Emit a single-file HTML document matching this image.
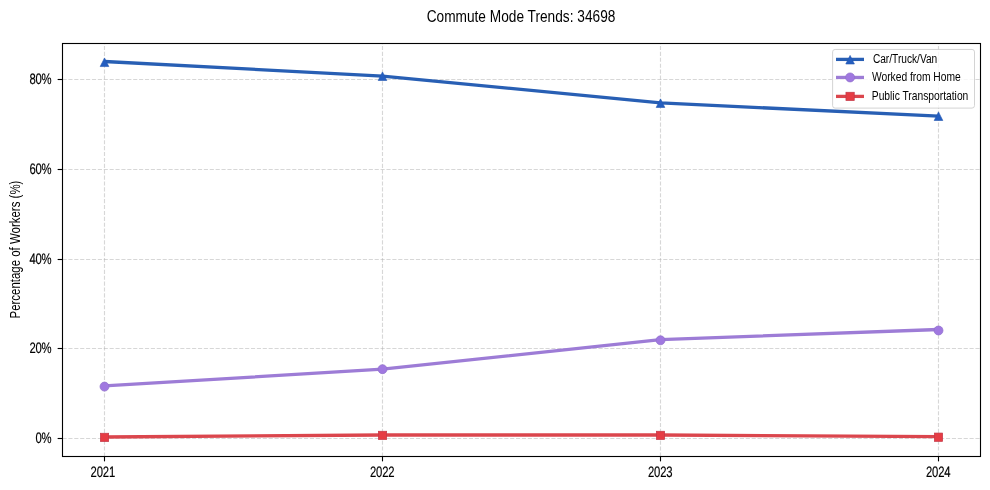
<!DOCTYPE html>
<html lang="en"><head><meta charset="utf-8"><title>Commute Mode Trends: 34698</title>
<style>html,body{margin:0;padding:0;background:#fff;}body{width:990px;height:490px;overflow:hidden;font-family:"Liberation Sans",sans-serif;}svg{display:block;will-change:transform;}text{font-family:"Liberation Sans",sans-serif;}</style></head><body>
<svg width="990" height="490" viewBox="0 0 990 490">
<defs><mask id="tm" maskUnits="userSpaceOnUse" x="0" y="0" width="990" height="490"><rect x="0" y="0" width="990" height="490" fill="#fff"/></mask></defs>
<rect width="990" height="490" fill="#fff"/>
<g stroke="#b0b0b0" stroke-opacity="0.5" stroke-width="1.11" stroke-dasharray="4.11 1.78" fill="none">
<line x1="104.5" y1="456.5" x2="104.5" y2="43.5"/>
<line x1="382.5" y1="456.5" x2="382.5" y2="43.5"/>
<line x1="660.5" y1="456.5" x2="660.5" y2="43.5"/>
<line x1="938.5" y1="456.5" x2="938.5" y2="43.5"/>
<line x1="62.5" y1="438.5" x2="980.5" y2="438.5"/>
<line x1="62.5" y1="348.5" x2="980.5" y2="348.5"/>
<line x1="62.5" y1="259.5" x2="980.5" y2="259.5"/>
<line x1="62.5" y1="169.5" x2="980.5" y2="169.5"/>
<line x1="62.5" y1="79.5" x2="980.5" y2="79.5"/>
</g>
<g stroke="#000" stroke-width="1.11">
<line x1="104.5" y1="456.5" x2="104.5" y2="461.36"/>
<line x1="382.5" y1="456.5" x2="382.5" y2="461.36"/>
<line x1="660.5" y1="456.5" x2="660.5" y2="461.36"/>
<line x1="938.5" y1="456.5" x2="938.5" y2="461.36"/>
<line x1="62.5" y1="438.5" x2="57.64" y2="438.5"/>
<line x1="62.5" y1="348.5" x2="57.64" y2="348.5"/>
<line x1="62.5" y1="259.5" x2="57.64" y2="259.5"/>
<line x1="62.5" y1="169.5" x2="57.64" y2="169.5"/>
<line x1="62.5" y1="79.5" x2="57.64" y2="79.5"/>
</g>
<polyline points="104.5,61.5 382.5,76.1 660.5,102.9 938.5,116.2" fill="none" stroke="#285FB4" stroke-width="3.3" stroke-linejoin="round" stroke-linecap="butt"/>
<path d="M104.5,57.96 L100.2,66.56 L108.8,66.56 Z" fill="#245EC0" stroke="#2156B0" stroke-width="0.6" stroke-linejoin="miter"/>
<path d="M382.5,71.89999999999999 L378.2,80.5 L386.8,80.5 Z" fill="#245EC0" stroke="#2156B0" stroke-width="0.6" stroke-linejoin="miter"/>
<path d="M660.5,98.86 L656.2,107.46000000000001 L664.8,107.46000000000001 Z" fill="#245EC0" stroke="#2156B0" stroke-width="0.6" stroke-linejoin="miter"/>
<path d="M938.5,111.89999999999999 L934.2,120.5 L942.8,120.5 Z" fill="#245EC0" stroke="#2156B0" stroke-width="0.6" stroke-linejoin="miter"/>
<polyline points="104.5,385.9 382.5,369.2 660.5,339.6 938.5,329.5" fill="none" stroke="#9D7CD6" stroke-width="3.3" stroke-linejoin="round" stroke-linecap="butt"/>
<circle cx="104.5" cy="386.6" r="4.5" fill="#A078E0" stroke="#8F70CC" stroke-width="0.7"/>
<circle cx="382.5" cy="369.2" r="4.5" fill="#A078E0" stroke="#8F70CC" stroke-width="0.7"/>
<circle cx="660.5" cy="340.3" r="4.5" fill="#A078E0" stroke="#8F70CC" stroke-width="0.7"/>
<circle cx="938.5" cy="330.5" r="4.5" fill="#A078E0" stroke="#8F70CC" stroke-width="0.7"/>
<polyline points="104.5,437.0 382.5,435.0 660.5,435.0 938.5,436.6" fill="none" stroke="#DB464D" stroke-width="3.3" stroke-linejoin="round" stroke-linecap="butt"/>
<rect x="100.35" y="433.25" width="8.3" height="8.3" fill="#E63C44" stroke="#C43848" stroke-width="0.7"/>
<rect x="378.35" y="431.25" width="8.3" height="8.3" fill="#E63C44" stroke="#C43848" stroke-width="0.7"/>
<rect x="656.35" y="431.25" width="8.3" height="8.3" fill="#E63C44" stroke="#C43848" stroke-width="0.7"/>
<rect x="934.35" y="433.05" width="8.3" height="8.3" fill="#E63C44" stroke="#C43848" stroke-width="0.7"/>
<rect x="62.5" y="43.5" width="918.0" height="413.0" fill="none" stroke="#000" stroke-width="1.11"/>
<g mask="url(#tm)"><text transform="translate(102.8,476.9) scale(0.7478523178807946,1)" font-size="15.1" text-anchor="middle" fill="#000" letter-spacing="-0.25" text-rendering="geometricPrecision" stroke="#000" stroke-width="0.2">2021</text></g>
<g mask="url(#tm)"><text transform="translate(382.2,476.9) scale(0.7478523178807946,1)" font-size="15.1" text-anchor="middle" fill="#000" letter-spacing="-0.25" text-rendering="geometricPrecision" stroke="#000" stroke-width="0.2">2022</text></g>
<g mask="url(#tm)"><text transform="translate(660.2,476.9) scale(0.7478523178807946,1)" font-size="15.1" text-anchor="middle" fill="#000" letter-spacing="-0.25" text-rendering="geometricPrecision" stroke="#000" stroke-width="0.2">2023</text></g>
<g mask="url(#tm)"><text transform="translate(938.2,476.9) scale(0.7478523178807946,1)" font-size="15.1" text-anchor="middle" fill="#000" letter-spacing="-0.25" text-rendering="geometricPrecision" stroke="#000" stroke-width="0.2">2024</text></g>
<g mask="url(#tm)"><text transform="translate(51.2,443.0) scale(0.7478523178807946,1)" font-size="15.1" text-anchor="end" fill="#000" letter-spacing="-0.45" text-rendering="geometricPrecision" stroke="#000" stroke-width="0.2">0%</text></g>
<g mask="url(#tm)"><text transform="translate(51.2,353.0) scale(0.7478523178807946,1)" font-size="15.1" text-anchor="end" fill="#000" letter-spacing="-0.45" text-rendering="geometricPrecision" stroke="#000" stroke-width="0.2">20%</text></g>
<g mask="url(#tm)"><text transform="translate(51.2,264.0) scale(0.7478523178807946,1)" font-size="15.1" text-anchor="end" fill="#000" letter-spacing="-0.45" text-rendering="geometricPrecision" stroke="#000" stroke-width="0.2">40%</text></g>
<g mask="url(#tm)"><text transform="translate(51.2,174.0) scale(0.7478523178807946,1)" font-size="15.1" text-anchor="end" fill="#000" letter-spacing="-0.45" text-rendering="geometricPrecision" stroke="#000" stroke-width="0.2">60%</text></g>
<g mask="url(#tm)"><text transform="translate(51.2,84.0) scale(0.7478523178807946,1)" font-size="15.1" text-anchor="end" fill="#000" letter-spacing="-0.45" text-rendering="geometricPrecision" stroke="#000" stroke-width="0.2">80%</text></g>
<g mask="url(#tm)"><text transform="translate(19.9,249.55) rotate(-90) scale(0.7588907284768212,1)" font-size="15.1" text-anchor="middle" fill="#000">Percentage of Workers (%)</text></g>
<g mask="url(#tm)"><text transform="translate(521.0,21.6) scale(0.8215,1)" font-size="16.67" text-anchor="middle" fill="#000">Commute Mode Trends: 34698</text></g>
<rect x="832.6" y="49.45" width="141.89999999999998" height="58.64999999999999" rx="2.5" ry="2.5" fill="#fff" fill-opacity="0.8" stroke="#ccc" stroke-opacity="0.85" stroke-width="1.0"/>
<line x1="836.0" y1="59.4" x2="864.0" y2="59.4" stroke="#285FB4" stroke-width="3.3"/>
<path d="M850.1,55.4 L845.8000000000001,64.0 L854.4,64.0 Z" fill="#245EC0" stroke="#2156B0" stroke-width="0.6" stroke-linejoin="miter"/>
<g mask="url(#tm)"><text transform="translate(872.9,62.7) scale(0.813,1)" font-size="12.5" text-anchor="start" fill="#000">Car/Truck/Van</text></g>
<line x1="836.0" y1="77.45" x2="864.0" y2="77.45" stroke="#9D7CD6" stroke-width="3.3"/>
<circle cx="850.1" cy="77.45" r="4.5" fill="#A078E0" stroke="#8F70CC" stroke-width="0.7"/>
<g mask="url(#tm)"><text transform="translate(871.9,80.9) scale(0.8223495,1)" font-size="12.5" text-anchor="start" fill="#000">Worked from Home</text></g>
<line x1="836.0" y1="96.4" x2="864.0" y2="96.4" stroke="#DB464D" stroke-width="3.3"/>
<rect x="845.95" y="92.25" width="8.3" height="8.3" fill="#E63C44" stroke="#C43848" stroke-width="0.7"/>
<g mask="url(#tm)"><text transform="translate(871.8,100.3) scale(0.8225121,1)" font-size="12.5" text-anchor="start" fill="#000">Public Transportation</text></g>
</svg></body></html>
